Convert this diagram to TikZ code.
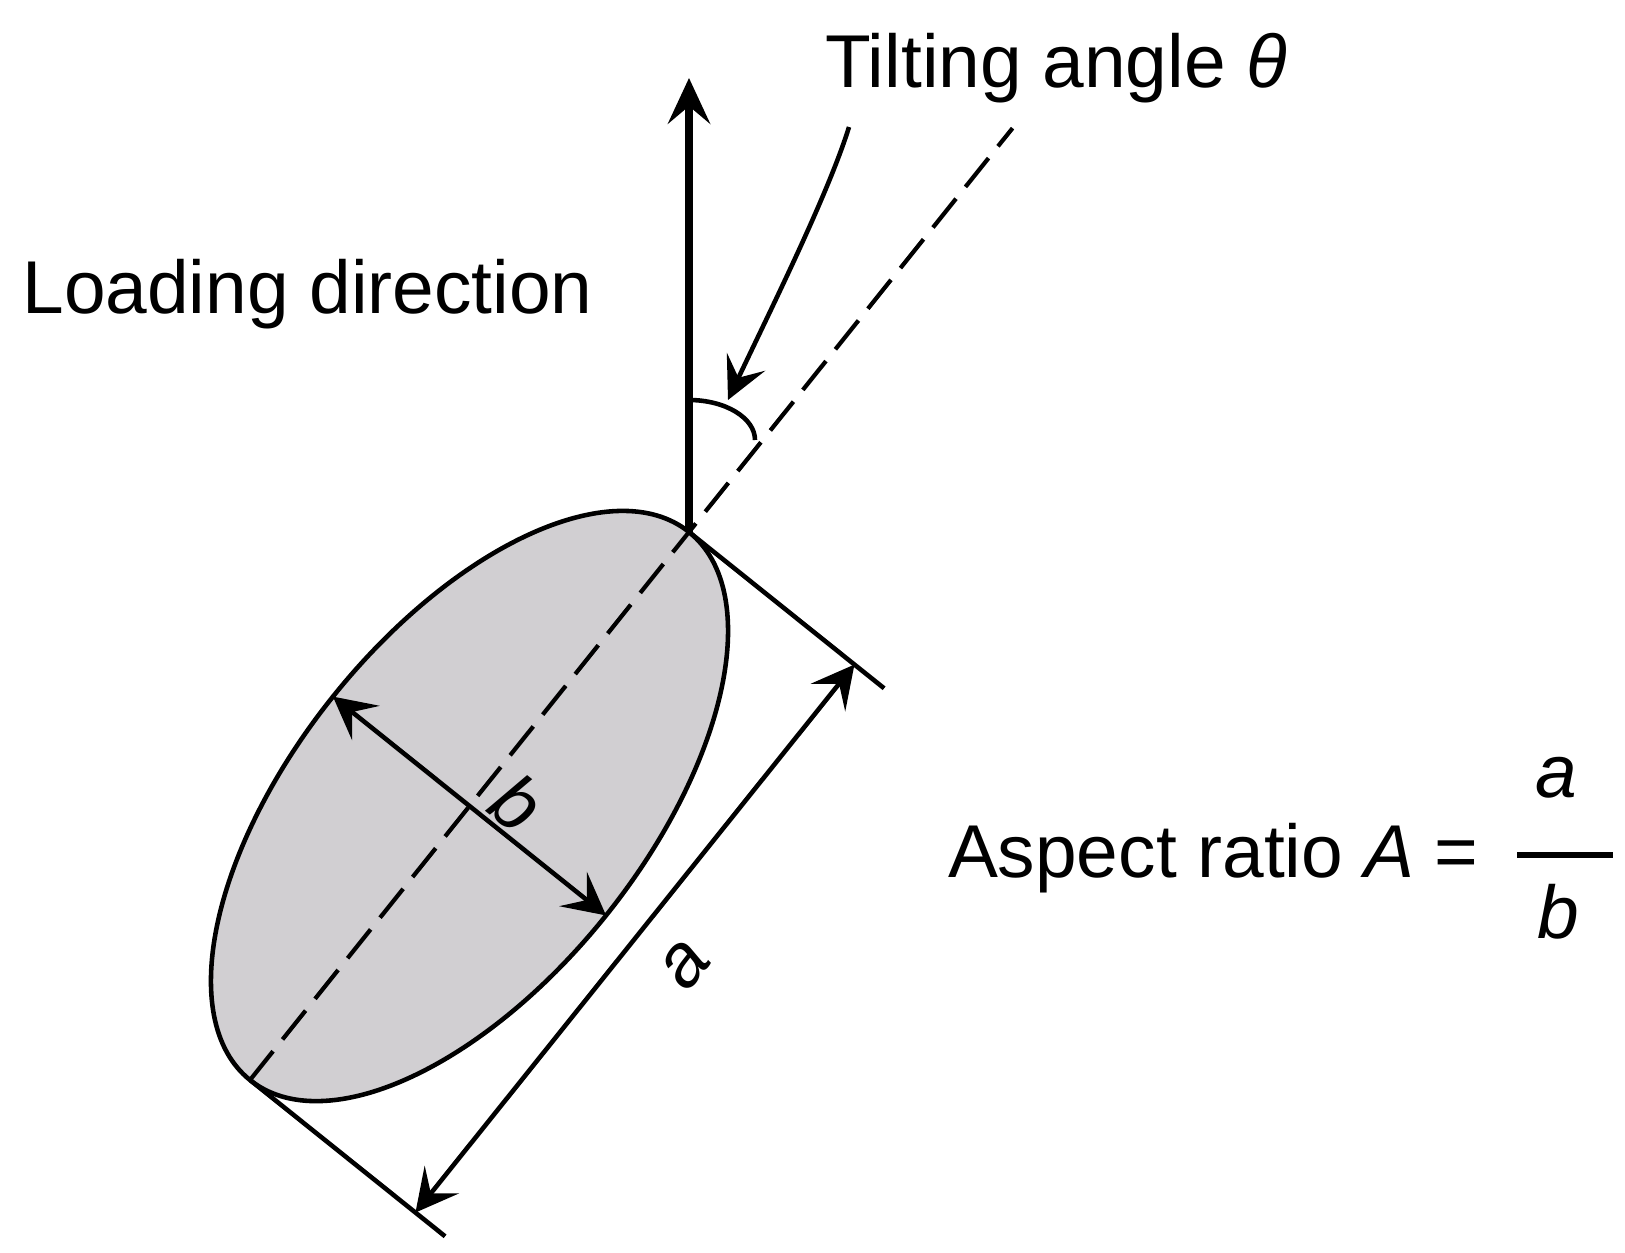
\documentclass[tikz,border=0pt]{standalone}
\usepackage{fontspec}
\setmainfont{Liberation Sans}
\usetikzlibrary{arrows.meta,calc}
\definecolor{ellgray}{RGB}{209,207,210}
\begin{document}
\begin{tikzpicture}[x=1cm,y=1cm,
  thinline/.style={line width=1.3pt, line cap=butt},
  tipstyle/.style={-{Stealth[length=12pt,width=12pt,inset=5pt]}},
  dbltip/.style={{Stealth[length=12pt,width=12.5pt,inset=5pt]}-{Stealth[length=12pt,width=12.5pt,inset=5pt]}},
  bigtip/.style={-{Stealth[length=13pt,width=12pt,inset=5pt]}},
  dashline/.style={line width=1.2pt, dash pattern=on 10.5pt off 4.3pt},
  txt/.style={font=\fontsize{21.3}{25}\selectfont, inner sep=0pt, outer sep=0pt},
  ]
\useasboundingbox (0,0) rectangle (16.25,-12.52);
% key points
\coordinate (P1) at (6.89,-5.32);
\coordinate (P2) at (2.50,-10.80);
\coordinate (C) at ($(P1)!0.5!(P2)$);
\coordinate (T0) at (6.89,-0.78);
\coordinate (D) at ($(P2)!1.737!(P1)$);
\coordinate (B1) at ($(C)+(141.3:1.75)$);
\coordinate (B2) at ($(C)+(-38.7:1.75)$);
\coordinate (E1) at ($(P1)!2.50cm!90:(P2)$);
\coordinate (E2) at ($(P2)!2.50cm!-90:(P1)$);
\coordinate (A1) at ($(P1)!2.12cm!90:(P2)$);
\coordinate (A2) at ($(P2)!2.12cm!-90:(P1)$);
\coordinate (arcS) at (6.89,-4.00);
\coordinate (cs) at (8.49,-1.27);
\coordinate (ce) at (7.28,-4.00);
\coordinate (F1) at (15.17,-8.55);
\coordinate (F2) at (16.13,-8.55);
% ellipse
\draw[thinline, fill=ellgray] (C) ellipse [x radius=3.511, y radius=1.75, rotate=51.3];
% dashed major axis extended
\draw[dashline] (P2) -- (D);
% b arrow
\draw[thinline, dbltip] (B1) -- (B2);
% extension lines and a dimension
\draw[thinline] (P1) -- (E1);
\draw[thinline] (P2) -- (E2);
\draw[thinline, dbltip] (A1) -- (A2);
% loading direction arrow
\draw[line width=2pt, bigtip] (P1) -- (T0);
% angle arc
\draw[thinline] (arcS) arc [start angle=90, end angle=0, x radius=0.66, y radius=0.40];
% pointer arrow
\draw[thinline, tipstyle] (cs) .. controls (8.28,-1.95) and (7.68,-3.15) .. (ce);
% texts
\node[txt, anchor=base west] (tilt) at (8.25,-0.87) {Tilting angle \textit{θ}};
\node[txt, anchor=base west] (load) at (0.225,-3.13) {Loading direction};
\node[txt, anchor=base west] (aspect) at (9.48,-8.77) {Aspect ratio \textit{A} =};
\node[txt, anchor=base] (num) at (15.565,-7.97) {\textit{a}};
\node[txt, anchor=base] (den) at (15.58,-9.38) {\textit{b}};
\draw[line width=1.6pt] (F1) -- (F2);
\node[txt, rotate=-38.7] (lb) at (5.17,-8.03) {\textit{b}};
\node[txt, rotate=51.3] (la) at (6.85,-9.65) {\textit{a}};
\end{tikzpicture}
\end{document}
